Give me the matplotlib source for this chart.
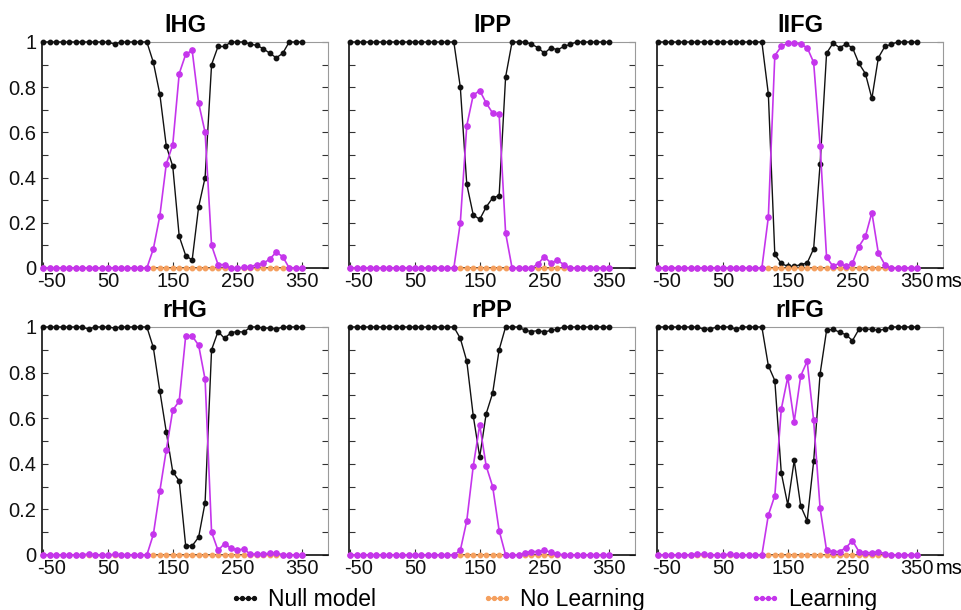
import numpy as np
import matplotlib
matplotlib.use("Agg")
import matplotlib.pyplot as plt
import matplotlib.transforms as mtransforms
from matplotlib.lines import Line2D

plt.rcParams['font.family'] = ['Liberation Sans', 'DejaVu Sans']

# waktu (ms), bin 10 ms
waktu = np.arange(-50, 351, 10)

judul = ["lHG", "lPP", "lIFG", "rHG", "rPP", "rIFG"]

# Null model (hitam)
null_lHG = [1, 1, 1, 1, 1, 1, 1, 1, 1, 1, 1, 0.99, 1, 1, 1, 1, 1,
            0.91, 0.77, 0.54, 0.45, 0.14, 0.055, 0.035, 0.27, 0.40, 0.90, 0.98, 0.98,
            1.0, 1.0, 1.0, 0.99, 0.985, 0.97, 0.95, 0.93, 0.95, 1, 1, 1]
null_lPP = [1] * 17 + [0.80, 0.37, 0.235, 0.215, 0.27, 0.31, 0.32, 0.845, 1, 1, 1,
                       0.99, 0.975, 0.95, 0.975, 0.965, 0.98, 0.99] + [1] * 6
null_lIFG = [1] * 17 + [0.77, 0.06, 0.02, 0.007, 0.007, 0.015, 0.022, 0.085, 0.46, 0.95,
                        0.995, 0.975, 0.99, 0.975, 0.905, 0.86, 0.75, 0.93, 0.98, 0.99] + [1] * 4
null_rHG = [1, 1, 1, 1, 1, 1, 1, 0.99, 1, 1, 1, 0.995, 1, 1, 1, 1, 1,
            0.91, 0.72, 0.54, 0.365, 0.325, 0.04, 0.04, 0.078, 0.23, 0.90, 0.98, 0.95,
            0.975, 0.98, 0.977, 1.0, 1, 0.995, 0.995, 0.99, 1, 1, 1, 1]
null_rPP = [1] * 17 + [0.95, 0.85, 0.61, 0.43, 0.62, 0.71, 0.90, 1, 1, 1,
                       0.985, 0.98, 0.984, 0.978, 0.985, 0.99] + [1] * 8
null_rIFG = [1, 1, 1, 1, 1, 1, 1, 0.99, 0.99, 1, 1, 1, 0.99, 1, 1, 1, 1,
             0.83, 0.765, 0.36, 0.22, 0.415, 0.215, 0.15, 0.41, 0.795, 0.985, 0.99, 0.977,
             0.966, 0.94, 0.99, 0.99, 0.99, 0.985, 0.99, 1, 1, 1, 1, 1]

# Learning (ungu)
learn_lHG = [0] * 17 + [0.084, 0.23, 0.46, 0.545, 0.86, 0.945, 0.963, 0.73, 0.60, 0.10,
                        0.015, 0.015, 0.0, 0.0, 0.003, 0.005, 0.015, 0.02, 0.04, 0.07, 0.05, 0, 0, 0]
learn_lPP = [0] * 17 + [0.20, 0.63, 0.765, 0.785, 0.73, 0.685, 0.68, 0.155, 0, 0, 0, 0,
                        0.018, 0.05, 0.022, 0.034, 0.015] + [0] * 7
learn_lIFG = [0] * 17 + [0.225, 0.94, 0.98, 0.995, 0.995, 0.99, 0.975, 0.91, 0.54, 0.047,
                         0.007, 0.022, 0.007, 0.022, 0.095, 0.14, 0.245, 0.066, 0.015] + [0] * 5
learn_rHG = [0, 0, 0, 0, 0, 0, 0, 0.005, 0, 0, 0, 0.003, 0, 0, 0, 0, 0,
             0.09, 0.28, 0.46, 0.635, 0.675, 0.96, 0.96, 0.92, 0.77, 0.10, 0.02, 0.05,
             0.03, 0.022, 0.026, 0.003, 0.005, 0.005, 0.007, 0.01, 0, 0, 0, 0]
learn_rPP = [0] * 17 + [0.02, 0.15, 0.39, 0.57, 0.39, 0.30, 0.107, 0, 0, 0,
                        0.01, 0.015, 0.015, 0.02, 0.012, 0.005] + [0] * 8
learn_rIFG = [0, 0, 0, 0, 0, 0, 0.005, 0.003, 0, 0, 0, 0.004, 0, 0, 0, 0, 0,
              0.175, 0.26, 0.64, 0.78, 0.585, 0.785, 0.85, 0.59, 0.205, 0.02, 0.015, 0.015,
              0.032, 0.063, 0.015, 0.01, 0.01, 0.015, 0.005, 0, 0, 0, 0, 0]

# No Learning (oranye), nol di semua titik
nolearn = [0] * 41

null_all = [null_lHG, null_lPP, null_lIFG, null_rHG, null_rPP, null_rIFG]
learn_all = [learn_lHG, learn_lPP, learn_lIFG, learn_rHG, learn_rPP, learn_rIFG]

warna_null = '#111111'
warna_no = '#f5a05f'
warna_learn = '#c535ec'

fig = plt.figure(figsize=(9.62, 6.10), dpi=100)

lefts = [0.0437, 0.3628, 0.683]
bottoms = [0.5607, 0.0902]
heights = [0.3705, 0.3738]
w = 0.2973

for i in range(6):
    r, c = divmod(i, 3)
    ax = fig.add_axes([lefts[c], bottoms[r], w, heights[r]])
    ax.plot(waktu, null_all[i], color=warna_null, lw=1.0, marker='o', ms=3.2, clip_on=False, zorder=3)
    ax.plot(waktu, nolearn, color=warna_no, lw=1.0, marker='o', ms=3.2, clip_on=False, zorder=4)
    ax.plot(waktu, learn_all[i], color=warna_learn, lw=1.2, marker='o', ms=3.8, clip_on=False, zorder=5)

    ax.set_xlim(-52, 390)
    ax.set_ylim(0, 1)
    ax.set_xticks([-50, 50, 150, 250, 350])
    ax.set_xticklabels(['-50', '50', '150', '250', '350'])
    ax.set_yticks([0, 0.2, 0.4, 0.6, 0.8, 1])
    ax.set_yticks(np.arange(0.1, 1.0, 0.2), minor=True)
    if c == 0:
        ax.set_yticklabels(['0', '0.2', '0.4', '0.6', '0.8', '1'])
    else:
        ax.set_yticklabels([])
    ax.tick_params(axis='both', which='both', direction='in', length=4, width=0.8,
                   labelsize=14.5, pad=4, right=True, colors='#333333', labelcolor='#111111')
    ax.tick_params(axis='x', pad=3)

    # label -50 sedikit ke kanan supaya tidak menabrak label 0
    geser = mtransforms.ScaledTranslation(8 / 100, 0, fig.dpi_scale_trans)
    lbl = ax.get_xticklabels()[0]
    lbl.set_transform(lbl.get_transform() + geser)

    for s in ['left', 'bottom']:
        ax.spines[s].set_color('#111111')
        ax.spines[s].set_linewidth(1.2)
    for s in ['top', 'right']:
        ax.spines[s].set_color('#9a9a9a')
        ax.spines[s].set_linewidth(0.8)

    ax.set_title(judul[i], fontsize=17, fontweight='bold', pad=7)

    if c == 2:
        ax.annotate('ms', xy=(350, 0), xycoords='data', xytext=(13, -3),
                    textcoords='offset points', ha='left', va='top', fontsize=14.5,
                    annotation_clip=False)

# Legenda
handles = [
    Line2D([], [], color=warna_null, lw=1.0, marker='o', ms=2.8),
    Line2D([], [], color=warna_no, lw=1.0, marker='o', ms=2.8),
    Line2D([], [], color=warna_learn, lw=1.0, marker='o', ms=2.8),
]
fig.legend(handles, ['Null model', 'No Learning', 'Learning'], loc='lower center',
           bbox_to_anchor=(0.575, -0.035), ncol=3, frameon=False, fontsize=16.5,
           numpoints=4, handlelength=1.4, handletextpad=0.3, columnspacing=4.56)

fig.savefig('out.png', dpi=100)
